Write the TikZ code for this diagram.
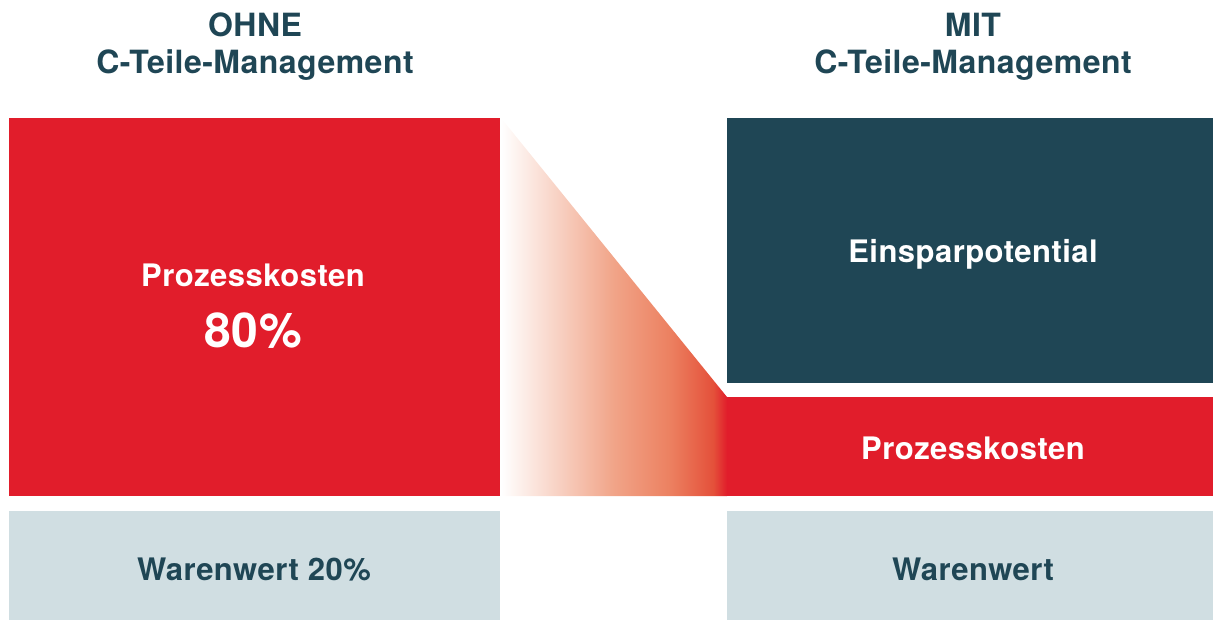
\documentclass[tikz,border=0pt]{standalone}
\usepackage{fontspec}
\setmainfont[LetterSpace=1.5]{TeX Gyre Heros}
\usetikzlibrary{positioning}

\definecolor{ctred}{RGB}{225,29,43}
\definecolor{ctdark}{RGB}{31,70,85}
\definecolor{ctgrey}{RGB}{208,222,226}
\definecolor{ctpeach}{RGB}{241,164,136}
\definecolor{ctsalmon}{RGB}{236,128,96}
\definecolor{ctorange}{RGB}{228,80,58}
\pgfdeclarehorizontalshading{fade}{100bp}{color(0bp)=(white); color(25bp)=(white); color(50bp)=(ctpeach); color(62.5bp)=(ctsalmon); color(72bp)=(ctorange); color(75bp)=(ctred); color(100bp)=(ctred)}

\begin{document}
\begin{tikzpicture}[x=1pt, y=-1pt,
    box/.style={inner sep=0pt, outer sep=0pt, anchor=north west},
    head/.style={anchor=base, text=ctdark, font=\fontsize{32}{36}\selectfont\bfseries},
    lbl/.style={anchor=base, font=\fontsize{31}{36}\selectfont\bfseries}]
    \useasboundingbox (0,0) rectangle (1213,621);

    % Titles
    \node [head] (ohne) at (255,36) {OHNE};
    \node [head] (ohnect) at (255,73) {C-Teile-Management};
    \node [head] (mit) at (973,36) {MIT};
    \node [head] (mitct) at (973,73) {C-Teile-Management};

    % Left column
    \node [box, fill=ctred, minimum width=491pt, minimum height=378pt] (proz) at (9,118) {};
    \node [box, fill=ctgrey, minimum width=491pt, minimum height=109pt] (ware) at (9,511) {};

    % Right column
    \node [box, fill=ctdark, minimum width=486pt, minimum height=265pt] (spar) at (727,118) {};
    \node [box, fill=ctred, minimum width=486pt, minimum height=99pt] (rproz) at (727,397) {};
    \node [box, fill=ctgrey, minimum width=486pt, minimum height=109pt] (rware) at (727,511) {};

    % Transition
    \shade [shading=fade] ([xshift=1pt]proz.north east) -- (rproz.north west)
        -- (rproz.south west) -- ([xshift=1pt]proz.south east) -- cycle;

    % Text
    \node [lbl, text=white] (proztxt) at (253,286) {Prozesskosten};
    \node [lbl, text=white, font=\fontsize{48}{50}\selectfont\bfseries] (prozval) at (253,347) {80\%};
    \node [lbl, text=ctdark] (waretxt) at (254,580) {Warenwert 20\%};
    \node [lbl, text=white] (spartxt) at (973,262) {Einsparpotential};
    \node [lbl, text=white] (rproztxt) at (973,459) {Prozesskosten};
    \node [lbl, text=ctdark] (rwaretxt) at (973,580) {Warenwert};

\end{tikzpicture}
\end{document}
